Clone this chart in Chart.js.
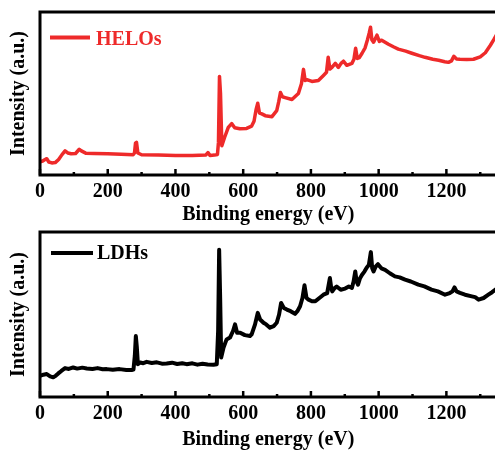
<!DOCTYPE html>
<html>
<head>
<meta charset="utf-8">
<script src="https://cdn.jsdelivr.net/npm/chart.js@4.4.0/dist/chart.umd.min.js"></script>
<style>
  body { margin: 0; background: #fff; overflow: hidden; }
  .panel { position: absolute; left: 0; width: 498px; height: 225px; }
</style>
</head>
<body>
<div class="panel" style="top:0"><canvas id="graficoHELOs" width="498" height="225"></canvas></div>
<div class="panel" style="top:225px"><canvas id="graficoLDHs" width="498" height="225"></canvas></div>
<script>
// XPS survey spectra, binding energy (eV) vs intensity (a.u.)
const xTickValues = [0, 200, 400, 600, 800, 1000, 1200]
const xMinorTicks = [100, 300, 500, 700, 900, 1100, 1300]

const helosEnergy = [0, 8, 15, 20, 26, 35, 45, 55, 65, 74, 82, 92, 105, 116, 122, 135, 160, 200, 240, 275,
  279, 282, 285, 289, 300, 350, 400, 450, 490, 496, 502, 515, 524, 527, 530, 533, 537, 545, 556, 566,
  575, 590, 610, 625, 632, 638, 643, 648, 655, 665, 685, 699, 705, 710, 716, 724, 744, 763, 772, 778,
  783, 788, 803, 822, 837, 846, 851, 856, 862, 872, 881, 889, 896, 906, 921, 927, 932, 937, 943, 951,
  960, 967, 972, 976, 980, 985, 995, 1002, 1009, 1029, 1045, 1058, 1080, 1098, 1120, 1137, 1160, 1177, 1195, 1206,
  1215, 1222, 1230, 1240, 1260, 1280, 1300, 1315, 1330, 1340, 1348]
const helosIntensity = [8.0, 8.6, 9.5, 10.0, 8.0, 7.4, 7.6, 9.5, 12.5, 14.8, 13.5, 13.0, 13.2, 15.8, 14.8, 13.4, 13.2, 13.0, 12.8, 12.4,
  13.5, 19.5, 20.0, 13.5, 12.4, 12.3, 12.0, 11.9, 12.3, 13.8, 12.0, 12.2, 12.6, 20, 60.5, 50, 18.0, 23, 29.2, 31.5,
  29, 28.4, 28.6, 30, 33, 40, 44, 38, 37.5, 36.4, 35.8, 39.5, 45, 50.6, 48, 47.5, 46.3, 50.0, 56, 64.8,
  58, 58.5, 57.4, 58.0, 61.1, 63, 72.2, 65, 66, 68.5, 66.0, 68.5, 69.8, 67.3, 68.5, 71, 77.8, 71.5, 72, 74.7,
  78, 83, 87, 90.7, 83, 81.5, 85.8, 82, 82.7, 80.2, 78.5, 77.2, 76, 74.7, 73.2, 72.2, 71, 70.4, 69.5, 69.1,
  70, 72.8, 71.2, 71.0, 70.8, 71.0, 72.5, 75, 79.6, 83, 86]

const ldhsEnergy = [0, 10, 20, 30, 39, 47, 54, 63, 74, 85, 98, 110, 125, 138, 155, 170, 185, 197, 215, 235,
  255, 271, 276, 280, 283, 286, 289, 296, 305, 315, 330, 345, 360, 374, 390, 405, 420, 433, 450, 465,
  480, 495, 512, 522, 526, 529, 532, 535, 542, 551, 561, 570, 576, 582, 591, 605, 620, 625, 635, 643,
  650, 660, 668, 679, 690, 699, 706, 712, 720, 729, 740, 753, 760, 768, 775, 781, 787, 793, 803, 813,
  825, 837, 848, 856, 860, 863, 870, 876, 888, 901, 912, 921, 926, 931, 935, 939, 945, 951, 958, 965,
  971, 977, 981, 985, 991, 998, 1008, 1019, 1033, 1048, 1062, 1078, 1095, 1117, 1135, 1156, 1175, 1196, 1210, 1218,
  1224, 1230, 1240, 1255, 1275, 1285, 1295, 1310, 1324, 1335, 1348]
const ldhsIntensity = [12.8, 13.5, 13.9, 12.5, 11.9, 13.0, 14.3, 15.8, 17.5, 17.0, 17.9, 17.2, 17.8, 17.3, 17.0, 17.5, 16.8, 16.9, 16.5, 16.9,
  16.4, 16.4, 16.6, 25, 36.9, 30, 19.9, 20.9, 20.5, 21.3, 20.6, 21.0, 20.2, 20.3, 20.8, 20.0, 20.5, 19.9, 20.4, 19.6,
  20.2, 19.7, 19.5, 19.9, 40, 89.2, 60, 23.9, 30, 34.9, 36.0, 40, 44.0, 39, 39.0, 37.5, 37.0, 38.0, 44, 51.0,
  47, 45.0, 44, 42.0, 43, 45.0, 50, 57.0, 54, 53.0, 52, 50.4, 52, 55.0, 60, 67.7, 60, 59.0, 58, 58.0,
  60, 62.0, 63, 72.1, 66, 64.0, 66, 67.0, 65, 65.7, 67, 66.1, 70, 76.1, 70, 68.1, 72, 74.1, 76, 78.5,
  80, 87.8, 78, 76.1, 79, 80.5, 78, 77.1, 75, 73.1, 72.5, 71.1, 70, 68.1, 67, 65.1, 64, 62.0, 63, 64,
  66.4, 64, 63.1, 62, 61.0, 60.5, 59.0, 60, 62.0, 63.5, 65.5]

const serif = '"Liberation Serif", "Times New Roman", serif'

// frame, inward ticks on the bottom axis and the in-plot legend
const frameAndLegend = {
  id: 'frameAndLegend',
  afterDatasetsDraw(chart, args, opts) {
    const ctx = chart.ctx
    const a = chart.chartArea
    const x = chart.scales.x
    ctx.save()
    ctx.strokeStyle = '#000'
    ctx.lineWidth = 2.5
    xTickValues.forEach(v => {
      const px = x.getPixelForValue(v)
      ctx.beginPath(); ctx.moveTo(px, a.bottom); ctx.lineTo(px, a.bottom - 6); ctx.stroke()
    })
    xMinorTicks.forEach(v => {
      const px = x.getPixelForValue(v)
      ctx.beginPath(); ctx.moveTo(px, a.bottom); ctx.lineTo(px, a.bottom - 3); ctx.stroke()
    })
    ctx.lineWidth = 3
    ctx.strokeRect(a.left, a.top, a.right - a.left, a.bottom - a.top)

    const ds = chart.data.datasets[0]
    ctx.strokeStyle = ds.borderColor
    ctx.lineWidth = 4
    ctx.beginPath(); ctx.moveTo(opts.x0, opts.lineY); ctx.lineTo(opts.x1, opts.lineY); ctx.stroke()
    ctx.fillStyle = ds.borderColor
    ctx.font = 'bold 20px ' + serif
    ctx.textBaseline = 'alphabetic'
    ctx.fillText(ds.label, opts.textX, opts.textY)
    ctx.restore()
  }
}

function criarGrafico(id, label, energy, intensity, color, width, topPad, axisHeight, legend) {
  const ctx = document.getElementById(id)
  return new Chart(ctx, {
    type: 'line',
    data: {
      datasets: [{
        label: label,
        data: energy.map((e, i) => ({ x: e, y: intensity[i] })),
        borderColor: color,
        borderWidth: width,
        borderJoinStyle: 'round',
        pointRadius: 0,
        tension: 0
      }]
    },
    options: {
      responsive: false,
      animation: false,
      layout: { padding: { top: topPad, right: 1.5, left: 0, bottom: 0 } },
      scales: {
        x: {
          type: 'linear',
          min: 0,
          max: 1348,
          afterBuildTicks: s => { s.ticks = xTickValues.map(v => ({ value: v })) },
          afterFit: s => { s.height = axisHeight },
          grid: { display: false, drawTicks: false },
          border: { display: false },
          ticks: {
            color: '#000',
            padding: 7,
            callback: v => String(v),
            font: { family: serif, size: 20, weight: 'bold', lineHeight: 1 }
          },
          title: {
            display: true,
            text: 'Binding energy (eV)',
            color: '#000',
            padding: { top: 0, bottom: 0 },
            font: { family: serif, size: 20, weight: 'bold', lineHeight: 1 }
          }
        },
        y: {
          min: 0,
          max: 100,
          afterFit: s => { s.width = 40 },
          grid: { display: false, drawTicks: false },
          border: { display: false },
          ticks: { display: false },
          title: {
            display: true,
            text: 'Intensity (a.u.)',
            color: '#000',
            padding: { top: 9, bottom: 0 },
            font: { family: serif, size: 20, weight: 'bold', lineHeight: 1 }
          }
        }
      },
      plugins: {
        legend: { display: false },
        tooltip: { enabled: false },
        frameAndLegend: legend
      }
    },
    plugins: [frameAndLegend]
  })
}

criarGrafico('graficoHELOs', 'HELOs', helosEnergy, helosIntensity, '#ee2a2a', 3.5, 12, 50,
  { x0: 50, x1: 90, lineY: 37.5, textX: 96, textY: 44.5 })
criarGrafico('graficoLDHs', 'LDHs', ldhsEnergy, ldhsIntensity, '#000000', 4, 7, 53,
  { x0: 51, x1: 93, lineY: 28, textX: 97, textY: 34 })
</script>
</body>
</html>
